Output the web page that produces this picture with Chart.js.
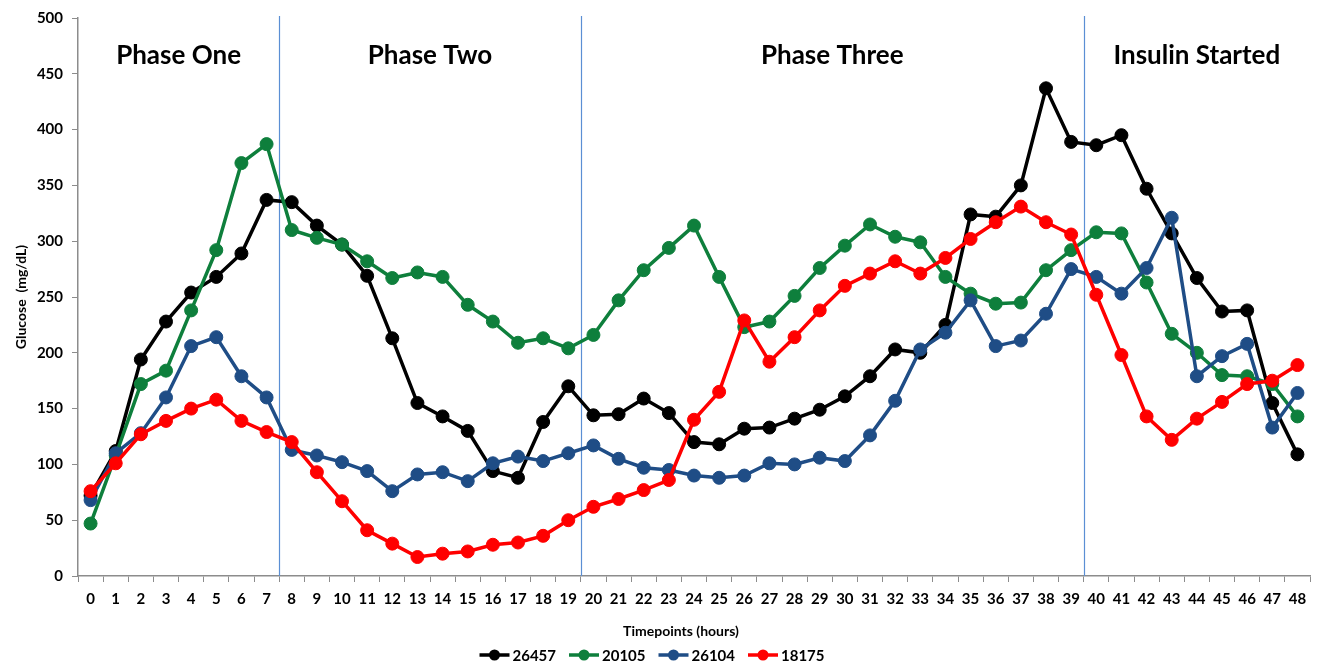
<!DOCTYPE html>
<html>
<head>
<meta charset="utf-8">
<title>Glucose by timepoint</title>
<script src="https://cdn.jsdelivr.net/npm/chart.js@4.4.1/dist/chart.umd.min.js"></script>
<style>
  html, body { margin: 0; padding: 0; background: #fff; }
  #wrap { width: 1326px; height: 669px; }
</style>
</head>
<body>
<div id="wrap"><canvas id="glucoseChart"></canvas></div>
<script>
// timepoints (hours)
const hours = ['0', '1', '2', '3', '4', '5', '6', '7', '8', '9', '10', '11', '12', '13', '14', '15', '16',
    '17', '18', '19', '20', '21', '22', '23', '24', '25', '26', '27', '28', '29', '30', '31', '32',
    '33', '34', '35', '36', '37', '38', '39', '40', '41', '42', '43', '44', '45', '46', '47', '48'];

// glucose (mg/dL) per patient
const p26457 = [72, 112, 194, 228, 254, 268, 289, 337, 335, 314, 297, 269, 213, 155, 143, 130, 94,
    88, 138, 170, 144, 145, 159, 146, 120, 118, 132, 133, 141, 149, 161, 179, 203,
    200, 225, 324, 322, 350, 437, 389, 386, 395, 347, 307, 267, 237, 238, 155, 109];
const p20105 = [47, 108, 172, 184, 238, 292, 370, 387, 310, 303, 297, 282, 267, 272, 268, 243, 228,
    209, 213, 204, 216, 247, 274, 294, 314, 268, 223, 228, 251, 276, 296, 315, 304,
    299, 268, 253, 244, 245, 274, 292, 308, 307, 263, 217, 200, 180, 179, 172, 143];
const p26104 = [68, 110, 128, 160, 206, 214, 179, 160, 113, 108, 102, 94, 76, 91, 93, 85, 101,
    107, 103, 110, 117, 105, 97, 95, 90, 88, 90, 101, 100, 106, 103, 126, 157,
    203, 218, 247, 206, 211, 235, 275, 268, 253, 276, 321, 179, 197, 208, 133, 164];
const p18175 = [76, 101, 127, 139, 150, 158, 139, 129, 120, 93, 67, 41, 29, 17, 20, 22, 28,
    30, 36, 50, 62, 69, 77, 86, 140, 165, 229, 192, 214, 238, 260, 271, 282,
    271, 285, 302, 317, 331, 317, 306, 252, 198, 143, 122, 141, 156, 172, 175, 189];

const yTicks = [0, 50, 100, 150, 200, 250, 300, 350, 400, 450, 500];

// study phases: title and first hour of each
const phaseNames = ['Phase One', 'Phase Two', 'Phase Three', 'Insulin Started'];
const phaseStarts = [0, 8, 20, 40];

const FONT = 'Lato, "Open Sans", sans-serif';

const series = [
    { label: '26457', data: p26457, color: '#000000', order: 4 },
    { label: '20105', data: p20105, color: '#0e7f3c', order: 3 },
    { label: '26104', data: p26104, color: '#1f4d86', order: 2 },
    { label: '18175', data: p18175, color: '#ff0000', order: 1 }
];

// phase separators + phase titles
const phasePlugin = {
    id: 'phases',
    beforeDatasetsDraw(chart) {
        const { ctx, chartArea } = chart;
        const x = chart.scales.x;
        const bounds = phaseStarts.map((s, i) =>
            i === 0 ? chartArea.left : (x.getPixelForValue(s - 1) + x.getPixelForValue(s)) / 2);
        bounds.push(chartArea.right);

        ctx.save();
        ctx.strokeStyle = '#5b8fd4';
        ctx.lineWidth = 1.2;
        for (let i = 1; i < phaseStarts.length; i++) {
            const bx = Math.round(bounds[i]) + 0.5;
            ctx.beginPath();
            ctx.moveTo(bx, chartArea.top - 2);
            ctx.lineTo(bx, chartArea.bottom);
            ctx.stroke();
        }
        ctx.fillStyle = '#000';
        ctx.font = 'bold 26px ' + FONT;
        ctx.textAlign = 'center';
        ctx.textBaseline = 'middle';
        phaseNames.forEach((name, i) => {
            ctx.fillText(name, (bounds[i] + bounds[i + 1]) / 2, chartArea.top + 38);
        });
        ctx.restore();
    }
};

// axis titles and the line-with-marker legend
const labelsPlugin = {
    id: 'labels',
    afterDraw(chart) {
        const { ctx, chartArea } = chart;
        ctx.save();
        ctx.fillStyle = '#000';
        ctx.textBaseline = 'middle';

        // y title
        ctx.font = 'bold 14px ' + FONT;
        ctx.textAlign = 'center';
        ctx.translate(21, (chartArea.top + chartArea.bottom) / 2);
        ctx.rotate(-Math.PI / 2);
        ctx.fillText('Glucose  (mg/dL)', 0, 0);
        ctx.setTransform(1, 0, 0, 1, 0, 0);

        // x title
        const midX = (chartArea.left + chartArea.right) / 2;
        ctx.font = 'bold 14px ' + FONT;
        ctx.fillText('Timepoints (hours)', midX - 13, chartArea.bottom + 55);

        // legend
        ctx.font = 'bold 15px ' + FONT;
        ctx.textAlign = 'left';
        const lineW = 30, gap = 3, spacing = 13;
        const widths = series.map(s => lineW + gap + ctx.measureText(s.label).width);
        const total = widths.reduce((a, b) => a + b, 0) + spacing * (series.length - 1);
        let lx = midX - 42 - total / 2;
        const ly = chartArea.bottom + 79;
        series.forEach((s, i) => {
            ctx.strokeStyle = s.color;
            ctx.fillStyle = s.color;
            ctx.lineWidth = 3.5;
            ctx.beginPath();
            ctx.moveTo(lx, ly);
            ctx.lineTo(lx + lineW, ly);
            ctx.stroke();
            ctx.beginPath();
            ctx.arc(lx + lineW / 2, ly, 5.5, 0, Math.PI * 2);
            ctx.fill();
            ctx.fillStyle = '#000';
            ctx.fillText(s.label, lx + lineW + gap, ly + 1);
            lx += widths[i] + spacing;
        });
        ctx.restore();
    }
};

new Chart(document.getElementById('glucoseChart'), {
    type: 'line',
    data: {
        labels: hours,
        datasets: series.map(s => ({
            label: s.label,
            data: s.data,
            order: s.order,
            borderColor: s.color,
            backgroundColor: s.color,
            borderWidth: 3.5,
            tension: 0,
            pointRadius: 6.5,
            pointBorderWidth: 1,
            pointBackgroundColor: s.color,
            pointBorderColor: s.color
        }))
    },
    options: {
        responsive: true,
        maintainAspectRatio: false,
        animation: false,
        layout: { padding: { top: 18, right: 16, bottom: 0, left: 8 } },
        plugins: {
            legend: { display: false },
            tooltip: { enabled: false }
        },
        scales: {
            x: {
                offset: true,
                grid: {
                    offset: true,
                    drawOnChartArea: false,
                    tickLength: 6,
                    color: '#8c8c8c'
                },
                border: { color: '#8c8c8c', width: 1.5 },
                ticks: {
                    color: '#000',
                    maxRotation: 0,
                    autoSkip: false,
                    padding: 8,
                    font: { family: FONT, size: 15, weight: 'bold' }
                },
                afterFit(scale) { scale.height = 93; }
            },
            y: {
                min: 0,
                max: 500,
                afterBuildTicks(scale) { scale.ticks = yTicks.map(v => ({ value: v })); },
                grid: {
                    drawOnChartArea: false,
                    tickLength: 6,
                    color: '#8c8c8c'
                },
                border: { color: '#8c8c8c', width: 1.5 },
                ticks: {
                    color: '#000',
                    padding: 9,
                    font: { family: FONT, size: 15, weight: 'bold' }
                },
                afterFit(scale) { scale.width = 70; }
            }
        }
    },
    plugins: [phasePlugin, labelsPlugin]
});
</script>
</body>
</html>
